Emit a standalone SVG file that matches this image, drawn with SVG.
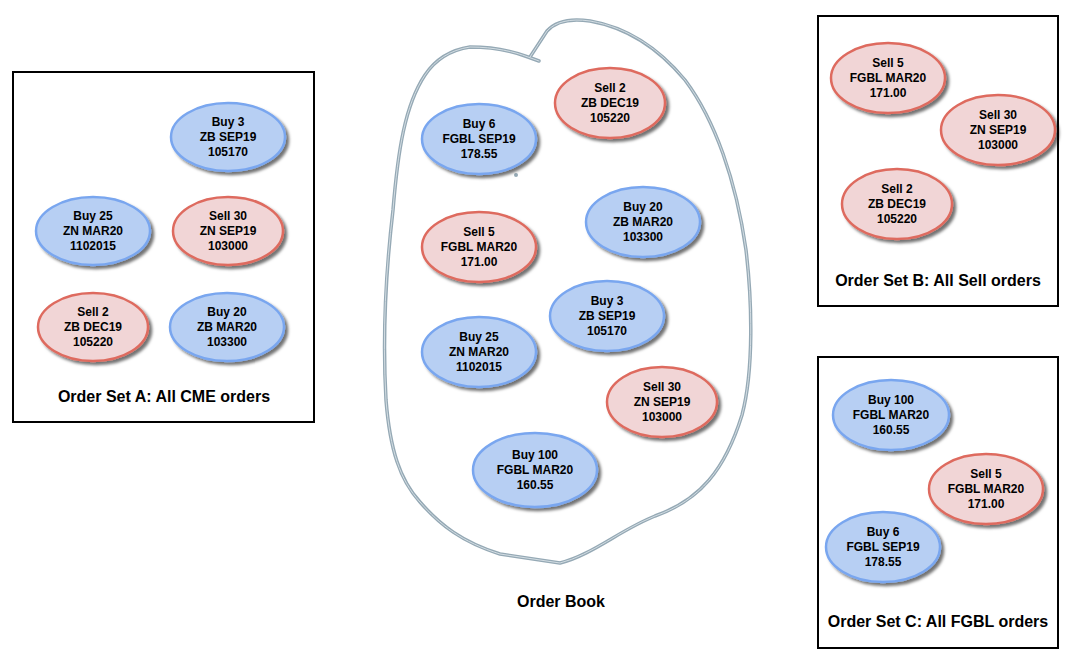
<svg xmlns="http://www.w3.org/2000/svg" width="1070" height="666" viewBox="0 0 1070 666">
<defs>
<filter id="sh" x="-20%" y="-20%" width="150%" height="160%">
<feDropShadow dx="3" dy="3" stdDeviation="1.8" flood-color="#000" flood-opacity="0.55"/>
</filter>
<style>
.box{fill:#fff;stroke:#000;stroke-width:2}
.buy{fill:#b7cff3;stroke:#79a6ef;stroke-width:2.5;filter:url(#sh)}
.sell{fill:#f1d5d6;stroke:#de6b5e;stroke-width:2.5;filter:url(#sh)}
.t{font-family:"Liberation Sans",Arial,sans-serif;font-weight:bold;font-size:12px;text-anchor:middle;fill:#000}
.lbl{font-family:"Liberation Sans",Arial,sans-serif;font-weight:bold;font-size:16px;text-anchor:middle;fill:#000}
.loop{fill:none;stroke:#95a9b5;stroke-width:3.5;stroke-linejoin:round;stroke-linecap:round}
.loopi{fill:none;stroke:#d3dde3;stroke-width:1;stroke-linejoin:round;stroke-linecap:round}
</style>
</defs>
<rect width="1070" height="666" fill="#fff"/>

<g id="setA">
<rect class="box" x="13" y="72" width="301" height="350"/>
<text class="lbl" x="164" y="402">Order Set A: All CME orders</text>
</g>
<g id="setB">
<rect class="box" x="818" y="16" width="240" height="290"/>
<text class="lbl" x="938" y="286">Order Set B: All Sell orders</text>
</g>
<g id="setC">
<rect class="box" x="818" y="357" width="240" height="291"/>
<text class="lbl" x="938" y="627">Order Set C: All FGBL orders</text>
</g>

<g id="orderbook">
<path class="loop" d="M539,61 L528,57 C515,52 495,47 470,47 C450,50 435,60 425,75 C405,105 398,150 393,210 C386,270 382,330 386,400 C390,450 400,480 420,502 C440,525 462,542 500,554 L560,563 C592,555 620,530 655,516 C700,500 725,470 742,415 C754,370 752,300 746,250 C736,180 715,120 685,80 C660,50 630,28 590,21 C570,18 555,22 547,31 L530,57"/>
<path class="loopi" d="M539,61 L528,57 C515,52 495,47 470,47 C450,50 435,60 425,75 C405,105 398,150 393,210 C386,270 382,330 386,400 C390,450 400,480 420,502 C440,525 462,542 500,554 L560,563 C592,555 620,530 655,516 C700,500 725,470 742,415 C754,370 752,300 746,250 C736,180 715,120 685,80 C660,50 630,28 590,21 C570,18 555,22 547,31 L530,57"/>
<circle cx="516" cy="175" r="2" fill="#95a9b5"/>
<text class="lbl" x="561" y="607">Order Book</text>
</g>

<!-- Set A nodes -->
<g id="a-buy3"><ellipse class="buy" cx="228" cy="137" rx="57" ry="34"/><text class="t" x="228" y="126">Buy 3</text><text class="t" x="228" y="141">ZB SEP19</text><text class="t" x="228" y="156">105170</text></g>
<g id="a-buy25"><ellipse class="buy" cx="93" cy="231" rx="57" ry="34"/><text class="t" x="93" y="220">Buy 25</text><text class="t" x="93" y="235">ZN MAR20</text><text class="t" x="93" y="250">1102015</text></g>
<g id="a-sell30"><ellipse class="sell" cx="228" cy="231" rx="55" ry="34"/><text class="t" x="228" y="220">Sell 30</text><text class="t" x="228" y="235">ZN SEP19</text><text class="t" x="228" y="250">103000</text></g>
<g id="a-sell2"><ellipse class="sell" cx="93" cy="327" rx="55" ry="34"/><text class="t" x="93" y="316">Sell 2</text><text class="t" x="93" y="331">ZB DEC19</text><text class="t" x="93" y="346">105220</text></g>
<g id="a-buy20"><ellipse class="buy" cx="227" cy="327" rx="57" ry="34"/><text class="t" x="227" y="316">Buy 20</text><text class="t" x="227" y="331">ZB MAR20</text><text class="t" x="227" y="346">103300</text></g>

<!-- Order book nodes -->
<g id="ob-sell2"><ellipse class="sell" cx="610" cy="103" rx="55" ry="35"/><text class="t" x="610" y="92">Sell 2</text><text class="t" x="610" y="107">ZB DEC19</text><text class="t" x="610" y="122">105220</text></g>
<g id="ob-buy6"><ellipse class="buy" cx="479" cy="139" rx="57" ry="35"/><text class="t" x="479" y="128">Buy 6</text><text class="t" x="479" y="143">FGBL SEP19</text><text class="t" x="479" y="158">178.55</text></g>
<g id="ob-buy20"><ellipse class="buy" cx="643" cy="222" rx="57" ry="35"/><text class="t" x="643" y="211">Buy 20</text><text class="t" x="643" y="226">ZB MAR20</text><text class="t" x="643" y="241">103300</text></g>
<g id="ob-sell5"><ellipse class="sell" cx="479" cy="247" rx="57" ry="35"/><text class="t" x="479" y="236">Sell 5</text><text class="t" x="479" y="251">FGBL MAR20</text><text class="t" x="479" y="266">171.00</text></g>
<g id="ob-buy3"><ellipse class="buy" cx="607" cy="316" rx="57" ry="35"/><text class="t" x="607" y="305">Buy 3</text><text class="t" x="607" y="320">ZB SEP19</text><text class="t" x="607" y="335">105170</text></g>
<g id="ob-buy25"><ellipse class="buy" cx="479" cy="352" rx="57" ry="35"/><text class="t" x="479" y="341">Buy 25</text><text class="t" x="479" y="356">ZN MAR20</text><text class="t" x="479" y="371">1102015</text></g>
<g id="ob-sell30"><ellipse class="sell" cx="662" cy="402" rx="55" ry="35"/><text class="t" x="662" y="391">Sell 30</text><text class="t" x="662" y="406">ZN SEP19</text><text class="t" x="662" y="421">103000</text></g>
<g id="ob-buy100"><ellipse class="buy" cx="535" cy="470" rx="62" ry="37"/><text class="t" x="535" y="459">Buy 100</text><text class="t" x="535" y="474">FGBL MAR20</text><text class="t" x="535" y="489">160.55</text></g>

<!-- Set B nodes -->
<g id="b-sell5"><ellipse class="sell" cx="888" cy="78" rx="57" ry="35"/><text class="t" x="888" y="67">Sell 5</text><text class="t" x="888" y="82">FGBL MAR20</text><text class="t" x="888" y="97">171.00</text></g>
<g id="b-sell30"><ellipse class="sell" cx="998" cy="130" rx="57" ry="35"/><text class="t" x="998" y="119">Sell 30</text><text class="t" x="998" y="134">ZN SEP19</text><text class="t" x="998" y="149">103000</text></g>
<g id="b-sell2"><ellipse class="sell" cx="897" cy="204" rx="55" ry="35"/><text class="t" x="897" y="193">Sell 2</text><text class="t" x="897" y="208">ZB DEC19</text><text class="t" x="897" y="223">105220</text></g>

<!-- Set C nodes -->
<g id="c-buy100"><ellipse class="buy" cx="891" cy="415" rx="58" ry="35"/><text class="t" x="891" y="404">Buy 100</text><text class="t" x="891" y="419">FGBL MAR20</text><text class="t" x="891" y="434">160.55</text></g>
<g id="c-sell5"><ellipse class="sell" cx="986" cy="489" rx="57" ry="35"/><text class="t" x="986" y="478">Sell 5</text><text class="t" x="986" y="493">FGBL MAR20</text><text class="t" x="986" y="508">171.00</text></g>
<g id="c-buy6"><ellipse class="buy" cx="883" cy="547" rx="57" ry="35"/><text class="t" x="883" y="536">Buy 6</text><text class="t" x="883" y="551">FGBL SEP19</text><text class="t" x="883" y="566">178.55</text></g>
</svg>
